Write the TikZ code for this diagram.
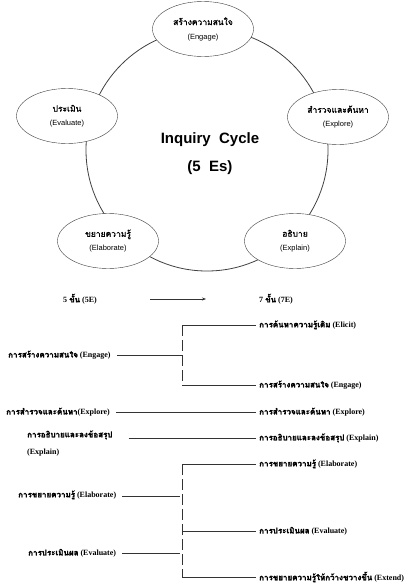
\documentclass[tikz,border=0pt]{standalone}
\usepackage{fontspec}
\setmainfont{Liberation Serif}
\setsansfont{Liberation Sans}
\newfontfamily\thaifont[Script=Thai,FakeBold=1.2]{Loma}
\newfontfamily\thaibfont[Script=Thai,FakeBold=2]{Loma}
\usetikzlibrary{shapes.geometric,arrows.meta}

\newcommand{\thtxt}[1]{{\thaibfont #1}}
\newcommand{\stagetext}[2]{{\thaifont\fontsize{8.5}{10}\selectfont #1}\\[2pt]{\fontsize{7.5}{9}\selectfont (#2)}}

\begin{document}
\begin{tikzpicture}[x=1pt,y=-1pt,
    stage/.style={draw=black!75, fill=white, ellipse, minimum width=101pt,
      minimum height=55pt, align=center, inner sep=1pt, font=\sffamily},
    steptxt/.style={anchor=west, inner sep=3pt, font=\bfseries\fontsize{8}{10}\selectfont},
    link/.style={draw=black!80, line width=0.8pt},
    gap/.style={link, dash pattern=on 11pt off 4pt}]
    \useasboundingbox (0,0) rectangle (406,584);

    % Cycle
    \draw[black!75, line width=0.8pt] (207,150) circle (121);
    \node[font=\sffamily\bfseries\fontsize{15}{18}\selectfont] (title) at (210,140) {Inquiry\ \ Cycle};
    \node[font=\sffamily\bfseries\fontsize{15}{18}\selectfont] (titleb) at (210,168) {(5\ \ Es)};

    % Stages of the cycle
    \node[stage] (engage) at (203,29) {\stagetext{สร้างความสนใจ}{Engage}};
    \node[stage] (explore) at (338,117) {\stagetext{สำรวจและค้นหา}{Explore}};
    \node[stage] (explain) at (295,241) {\stagetext{อธิบาย}{Explain}};
    \node[stage] (elaborate) at (108,241) {\stagetext{ขยายความรู้}{Elaborate}};
    \node[stage] (evaluate) at (67,116) {\stagetext{ประเมิน}{Evaluate}};

    % 5E to 7E
    \node[steptxt] (five) at (60,299) {5 \thtxt{ขั้น} (5E)};
    \node[steptxt] (seven) at (256,299) {7 \thtxt{ขั้น} (7E)};
    \draw[link, -{Stealth[length=4pt]}, shorten <=50pt, shorten >=50pt] (five.east) -- (seven.west);

    % Left column (5E)
    \node[steptxt] (l1) at (5,355) {\thtxt{การสร้างความสนใจ} (Engage)};
    \node[steptxt] (l2) at (3,412) {\thtxt{การสำรวจและค้นหา}(Explore)};
    \node[steptxt] (l3) at (24,435) {\thtxt{การอธิบายและลงข้อสรุป}};
    \node[steptxt] (l3b) at (24,453) {(Explain)};
    \node[steptxt] (l4) at (15,495) {\thtxt{การขยายความรู้} (Elaborate)};
    \node[steptxt] (l5) at (25,553) {\thtxt{การประเมินผล} (Evaluate)};

    % Right column (7E)
    \node[steptxt] (r1) at (256,325) {\thtxt{การค้นหาความรู้เดิม} (Elicit)};
    \node[steptxt] (r2) at (256,385) {\thtxt{การสร้างความสนใจ} (Engage)};
    \node[steptxt] (r3) at (256,412) {\thtxt{การสำรวจและค้นหา} (Explore)};
    \node[steptxt] (r4) at (256,438) {\thtxt{การอธิบายและลงข้อสรุป} (Explain)};
    \node[steptxt] (r5) at (256,464) {\thtxt{การขยายความรู้} (Elaborate)};
    \node[steptxt] (r6) at (256,531) {\thtxt{การประเมินผล} (Evaluate)};
    \node[steptxt] (r7) at (256,577) {\thtxt{การขยายความรู้ให้กว้างขวางขึ้น} (Extend)};

    % Split of Engage
    \coordinate (ja) at (182,325);
    \coordinate (jb) at (182,385);
    \coordinate (jm) at (182,355);
    \draw[link, shorten <=3pt] (l1.east) -- (jm);
    \draw[gap] (ja) -- (jb);
    \draw[link] (ja) -- (ja -| r1.west);
    \draw[link] (jb) -- (jb -| r2.west);

    % Straight steps
    \draw[link, shorten <=3pt] (l2.east) -- (l2.east -| r3.west);
    \draw[link, shorten <=13pt] (l3.east |- r4.west) -- (r4.west);

    % Split of Elaborate and Evaluate
    \coordinate (jc) at (182,464);
    \coordinate (jd) at (182,577);
    \coordinate (je) at (182,531);
    \coordinate (jf) at (180,496);
    \coordinate (jg) at (180,553);
    \draw[gap] (jc) -- (jd);
    \draw[link] (jc) -- (jc -| r5.west);
    \draw[link] (je) -- (je -| r6.west);
    \draw[link] (jd) -- (jd -| r7.west);
    \draw[link, shorten <=3pt] (l4.east |- jf) -- (jf);
    \draw[link, shorten <=3pt] (l5.east |- jg) -- (jg);
\end{tikzpicture}
\end{document}
